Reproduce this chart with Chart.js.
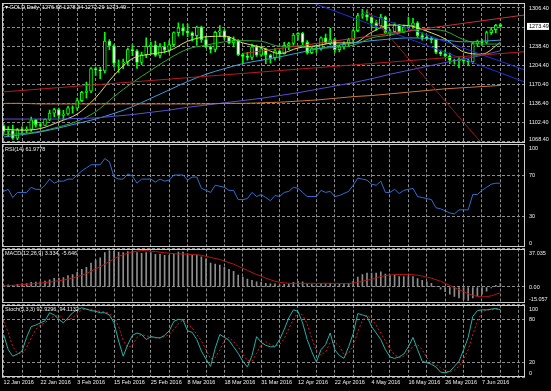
<!DOCTYPE html>
<html>
<head>
<meta charset="utf-8">
<script src="https://cdn.jsdelivr.net/npm/chart.js@4.4.1/dist/chart.umd.min.js"></script>
<style>
  html, body { margin: 0; padding: 0; background: #000; overflow: hidden; }
  #wrap { position: relative; width: 551px; height: 391px; }
  #wrap canvas { position: absolute; left: 0; top: 0; }
</style>
</head>
<body>
<div id="wrap">
  <canvas id="priceChart" width="551" height="391"></canvas>
  <canvas id="rsiChart" width="551" height="391"></canvas>
  <canvas id="macdChart" width="551" height="391"></canvas>
  <canvas id="stochChart" width="551" height="391"></canvas>
</div>
<script>
// GOLD daily, 12 Jan 2016 .. 13 Jun 2016 (one bar per index)
const dateLabels = ['12 Jan 2016', '22 Jan 2016', '3 Feb 2016', '15 Feb 2016', '25 Feb 2016', '8 Mar 2016',
  '18 Mar 2016', '31 Mar 2016', '12 Apr 2016', '22 Apr 2016', '4 May 2016', '16 May 2016', '26 May 2016', '7 Jun 2016'];

const opens = [
  1096.5, 1086.0, 1087.5, 1074.0, 1089.0, 1088.5, 1089.5, 1106.5, 1098.0, 1096.5,
  1107.5, 1118.5, 1125.0, 1114.5, 1117.0, 1128.0, 1127.5, 1141.0, 1155.5, 1158.0,
  1198.0, 1196.0, 1194.0, 1247.5, 1239.0, 1208.0, 1208.5, 1210.0, 1232.0, 1230.0,
  1209.0, 1223.0, 1238.0, 1240.0, 1221.5, 1237.5, 1231.0, 1241.0, 1262.5, 1271.0,
  1265.0, 1262.0, 1257.0, 1272.5, 1250.0, 1237.0, 1232.5, 1263.0, 1265.5, 1254.0,
  1244.0, 1248.5, 1223.0, 1220.0, 1218.0, 1237.0, 1222.0, 1233.5, 1222.0, 1217.5,
  1230.0, 1225.0, 1239.5, 1243.0, 1258.0, 1261.0, 1245.0, 1226.5, 1234.0, 1233.0,
  1253.0, 1243.5, 1250.0, 1232.0, 1237.5, 1243.0, 1249.5, 1266.0, 1293.0, 1294.5,
  1290.0, 1279.5, 1275.0, 1290.0, 1262.5, 1264.0, 1276.5, 1263.5, 1272.5, 1274.5,
  1280.0, 1257.0, 1254.0, 1252.5, 1250.0, 1227.0, 1224.5, 1221.0, 1213.0, 1212.0,
  1215.0, 1212.5, 1210.0, 1243.0, 1246.0, 1245.0, 1262.5, 1267.5, 1276.68];
const highs = [
  1097.5, 1094.5, 1097.0, 1091.5, 1094.0, 1094.0, 1111.5, 1107.5, 1102.0, 1108.5,
  1124.0, 1127.0, 1127.5, 1123.5, 1131.0, 1131.5, 1145.5, 1157.5, 1174.0, 1200.0,
  1201.0, 1200.5, 1263.0, 1250.0, 1241.0, 1214.0, 1215.0, 1235.0, 1240.5, 1232.0,
  1227.5, 1253.0, 1245.5, 1247.5, 1243.0, 1245.0, 1248.0, 1264.0, 1280.0, 1278.0,
  1277.5, 1264.0, 1274.0, 1274.0, 1256.0, 1239.0, 1265.0, 1275.0, 1268.0, 1256.0,
  1255.0, 1250.0, 1226.0, 1227.0, 1242.0, 1240.0, 1238.0, 1235.0, 1224.0, 1234.0,
  1231.0, 1245.0, 1245.0, 1261.0, 1262.5, 1263.0, 1248.0, 1236.0, 1239.0, 1255.0,
  1260.0, 1270.0, 1253.0, 1240.0, 1246.0, 1252.0, 1268.0, 1297.0, 1304.0, 1303.0,
  1291.0, 1285.0, 1295.0, 1292.0, 1268.0, 1280.0, 1277.0, 1276.0, 1290.0, 1288.0,
  1282.0, 1262.0, 1258.0, 1256.0, 1252.0, 1231.0, 1231.0, 1226.0, 1215.0, 1219.0,
  1220.0, 1214.5, 1245.0, 1249.0, 1250.0, 1265.0, 1272.0, 1277.0, 1278.34];
const lows = [
  1081.5, 1076.5, 1071.5, 1071.0, 1081.5, 1083.0, 1086.0, 1093.5, 1093.0, 1096.0,
  1105.0, 1112.0, 1109.0, 1107.0, 1115.0, 1118.5, 1124.0, 1139.0, 1145.5, 1155.0,
  1186.0, 1180.0, 1190.5, 1232.0, 1200.5, 1191.5, 1198.0, 1205.0, 1221.0, 1198.5,
  1205.0, 1217.5, 1225.0, 1220.0, 1217.0, 1226.0, 1227.0, 1239.0, 1256.0, 1258.0,
  1255.0, 1247.0, 1239.5, 1245.0, 1235.0, 1226.0, 1228.0, 1255.0, 1250.0, 1242.0,
  1237.0, 1221.0, 1208.0, 1213.0, 1214.0, 1220.0, 1220.0, 1207.0, 1208.0, 1213.0,
  1216.0, 1224.0, 1232.0, 1240.0, 1249.0, 1241.0, 1224.0, 1225.0, 1227.0, 1231.0,
  1242.0, 1241.0, 1227.0, 1228.0, 1233.0, 1238.0, 1244.0, 1264.0, 1288.0, 1284.0,
  1271.0, 1267.0, 1271.0, 1261.0, 1257.0, 1262.0, 1262.0, 1262.0, 1269.0, 1270.0,
  1254.0, 1249.0, 1250.0, 1244.0, 1225.0, 1221.0, 1219.0, 1207.0, 1206.0, 1199.5,
  1207.0, 1205.0, 1207.0, 1238.0, 1239.5, 1243.0, 1259.0, 1262.0, 1272.29];
const closes = [
  1086.0, 1087.5, 1074.0, 1089.0, 1088.5, 1089.5, 1106.5, 1098.0, 1096.5, 1107.5,
  1118.5, 1125.0, 1114.5, 1117.0, 1128.0, 1127.5, 1141.0, 1155.5, 1158.0, 1198.0,
  1196.0, 1194.0, 1247.5, 1239.0, 1208.0, 1208.5, 1210.0, 1232.0, 1230.0, 1209.0,
  1223.0, 1238.0, 1240.0, 1221.5, 1237.5, 1231.0, 1241.0, 1262.5, 1271.0, 1265.0,
  1262.0, 1257.0, 1272.5, 1250.0, 1237.0, 1232.5, 1263.0, 1265.5, 1254.0, 1244.0,
  1248.5, 1223.0, 1220.0, 1218.0, 1237.0, 1222.0, 1233.5, 1222.0, 1217.5, 1230.0,
  1225.0, 1239.5, 1243.0, 1258.0, 1261.0, 1245.0, 1226.5, 1234.0, 1233.0, 1253.0,
  1243.5, 1250.0, 1232.0, 1237.5, 1243.0, 1249.5, 1266.0, 1293.0, 1294.5, 1290.0,
  1279.5, 1275.0, 1290.0, 1262.5, 1264.0, 1276.5, 1263.5, 1272.5, 1274.5, 1280.0,
  1257.0, 1254.0, 1252.5, 1250.0, 1227.0, 1224.5, 1221.0, 1213.0, 1212.0, 1215.0,
  1212.5, 1210.0, 1243.0, 1246.0, 1245.0, 1262.5, 1267.5, 1275.5, 1273.49];

// moving averages, read every 4th bar (bar index = 4 * position)
const ma10 = [1090, 1088, 1091, 1103, 1117, 1146, 1186, 1216, 1224, 1230, 1247, 1255, 1256, 1244,
  1236, 1225, 1235, 1239, 1244, 1244, 1263, 1276, 1275, 1265, 1251, 1228, 1224, 1245];
const ma20 = [1080, 1082, 1086, 1094, 1104, 1121, 1148, 1173, 1195, 1216, 1233, 1240, 1246, 1248,
  1247, 1238, 1238, 1234, 1236, 1240, 1253, 1258, 1265, 1268, 1265, 1250, 1242, 1242];
const ma50 = [1076, 1080, 1085, 1092, 1100, 1108, 1118, 1130, 1145, 1160, 1175, 1188, 1198, 1207,
  1213, 1219, 1226, 1233, 1239, 1244, 1248, 1251, 1253, 1252, 1249, 1246, 1247, 1249];
const ma100 = [1108, 1108, 1108, 1108, 1109, 1110, 1113, 1116, 1120, 1124, 1129, 1133, 1137, 1141,
  1145, 1150, 1155, 1161, 1167, 1173, 1180, 1188, 1195, 1202, 1209, 1215, 1222, 1230];
const ma200 = [1136, 1136, 1135, 1135, 1135, 1135, 1135, 1135, 1135, 1135, 1135, 1135, 1136, 1136,
  1137, 1138, 1140, 1142, 1145, 1148, 1150, 1153, 1156, 1159, 1162, 1164, 1166, 1168];

// trend lines: [barIndex, price] end points
const trendLow = [[-0.4, 1156.3], [113.3, 1228.3]];
const trendHigh = [[52, 1225.0], [113.3, 1294.0]];
const trendDrop = [[78.9, 1302.8], [106, 1045.2]];
const channelA = [[67.6, 1314.4], [113.3, 1174.2]];
const channelB = [[78, 1299.3], [113.3, 1195.6]];

const rsi = [
  54, 56, 48, 53, 53, 53, 58, 56, 56, 60,
  66, 62, 64, 64, 66, 66, 70, 74, 77, 80,
  80, 80, 86, 83, 68, 66, 66, 71, 69, 62,
  66, 66, 66, 63, 66, 64, 65, 70, 70, 70,
  65, 68, 68, 57, 55, 53, 60, 59, 58, 55,
  55, 46, 46, 47, 53, 49, 51, 48, 45, 50,
  49, 53, 54, 58, 57, 53, 49, 49, 49, 55,
  53, 54, 49, 50, 52, 54, 60, 67, 66, 65,
  61, 60, 64, 53, 53, 56, 52, 55, 56, 57,
  49, 48, 47, 46, 38, 37, 35, 33, 32, 36,
  36, 36, 51, 51, 55, 58, 61, 62, 62];

const macdMain = [
  1.5, 2, 1.5, 2.5, 3, 3.3, 4.5, 4.8, 5, 5.8,
  7, 8.3, 8.6, 9, 11, 12, 14, 17, 19, 23,
  26, 28, 33, 35, 34.5, 33.5, 33, 34, 34.5, 33,
  32.5, 33, 33, 31.5, 31.5, 30.5, 30.5, 32, 33.5, 33.5,
  32, 31, 31, 29, 27, 23, 22, 21, 19, 17,
  15, 11.5, 9.5, 7.5, 6.5, 5, 4.5, 3.5, 3, 3,
  2, 2.5, 3, 4.5, 5.5, 5, 3, 2.5, 2, 3,
  3, 3.5, 2.5, 2.5, 3, 3.5, 5.5, 9.5, 12, 13.5,
  13.5, 13.5, 14.5, 12.5, 11.5, 11.5, 10, 10, 10, 10,
  8, 6.5, 5, 3.5, 0.5, -2, -4.5, -7, -9, -10.5,
  -12, -13, -10.5, -8.5, -7, -4, -1, 1.5, 3.3];
const macdSignal = [
  1, 1.3, 1.6, 1.9, 2.2, 2.6, 3, 3.4, 3.8, 4.3,
  4.8, 5.3, 6, 6.7, 7.6, 8.5, 10, 11.3, 13, 15,
  17.5, 19.5, 22, 24.5, 27, 29.5, 31, 32.5, 33.5, 34.5,
  35, 35, 34.5, 34, 33.5, 33, 32.5, 32, 31.8, 31.8,
  31.5, 31.2, 31, 30.5, 29.5, 28.5, 27.5, 26.5, 25, 23.5,
  22, 20, 18, 16, 14, 12, 10.5, 8.5, 7, 5.5,
  4.5, 4, 3.6, 3.5, 3.5, 3.5, 3.5, 3.5, 3.5, 3.5,
  3.6, 3.6, 3.5, 3.4, 3.3, 3.4, 3.8, 4.5, 5.5, 6.5,
  7.5, 8.8, 10, 11, 11.5, 12, 12, 12, 12, 11.8,
  11.3, 10.5, 9.5, 8.5, 7, 5.5, 3.5, 1.5, -0.5, -2.5,
  -4.5, -6.5, -8, -9, -9.5, -9.3, -8.5, -7, -5.6];

const stochMain = [
  59, 38, 29, 32, 36, 55, 70, 72, 75, 78,
  89, 86, 80, 75, 82, 89, 93, 96, 94, 92,
  91, 89, 89, 86, 75, 50, 29, 45, 58, 61,
  59, 52, 56, 55, 54, 58, 64, 77, 80, 79,
  64, 62, 52, 36, 25, 15, 40, 59, 55, 51,
  42, 33, 22, 14, 30, 56, 48, 44, 42, 42,
  52, 66, 82, 93, 91, 75, 52, 35, 21, 38,
  45, 61, 38, 30, 26, 42, 60, 88, 86, 84,
  70, 61, 52, 38, 28, 26, 28, 32, 42, 55,
  38, 22, 20, 18, 14, 7, 6, 8, 15, 22,
  38, 55, 84, 92, 93, 93, 94, 95, 93];
const stochSignal = [
  77, 62, 42, 33, 32, 41, 54, 66, 72, 75,
  81, 84, 85, 80, 79, 82, 88, 93, 94, 94,
  92, 91, 90, 88, 83, 70, 51, 41, 44, 55,
  59, 57, 56, 54, 55, 56, 59, 66, 74, 79,
  74, 68, 59, 50, 38, 25, 27, 38, 51, 55,
  49, 42, 32, 23, 22, 33, 45, 49, 45, 43,
  45, 53, 67, 80, 89, 86, 73, 54, 36, 31,
  35, 48, 48, 43, 31, 33, 43, 63, 78, 86,
  80, 72, 61, 50, 39, 31, 27, 29, 34, 43,
  45, 38, 27, 20, 17, 13, 9, 7, 10, 15,
  25, 38, 59, 77, 90, 93, 93, 94, 94];

// scale labels
const priceTicks = [1306.4, 1272.4, 1238.4, 1204.4, 1170.4, 1136.4, 1102.4, 1068.4];
const lastPrice = 1273.49;
const rsiTicks = [100, 70, 30, 0];
const macdTicks = [37.035, 0, -15.057];
const macdTickText = ['37.035', '0.00', '-15.057'];
const stochTicks = [100, 80, 20, 0];

// ---- look ----
const FONT = '5.5px "Liberation Sans", Arial, sans-serif';
const TEXT = '#f0f0f0';
const GRID = '#8c8c8c';
const FRAME = '#cfcfcf';
const CANDLE = '#00ff00';
const X_MIN = -0.35, X_MAX = 113.35;

const pts = arr => arr.map((v, i) => ({ x: i, y: v }));
const every4 = arr => arr.map((v, k) => ({ x: k * 4, y: v }));
const seg = p => p.map(q => ({ x: q[0], y: q[1] }));

// frame, right hand scale text and panel caption
const panelFrame = {
  id: 'panelFrame',
  afterDraw(chart, args, opts) {
    const { ctx, chartArea: a } = chart;
    const ys = chart.scales.y;
    ctx.save();
    ctx.strokeStyle = FRAME;
    ctx.lineWidth = 1;
    ctx.strokeRect(Math.round(a.left) + 0.5, Math.round(a.top) + 0.5,
      Math.round(a.right - a.left) - 1, Math.round(a.bottom - a.top) - 1);
    ctx.font = FONT;
    ctx.fillStyle = TEXT;
    ctx.textAlign = 'left';
    ctx.textBaseline = 'middle';
    ys.ticks.forEach((t, k) => {
      const txt = opts.labels[k];
      if (!txt) return;
      let py = ys.getPixelForValue(t.value);
      py = Math.min(Math.max(py, a.top + 4.5), a.bottom - 3.5);
      ctx.fillText(txt, a.right + 4, py);
    });
    if (opts.current !== undefined) {
      const py = ys.getPixelForValue(opts.current);
      ctx.fillStyle = '#ffffff';
      ctx.fillRect(a.right + 2, py - 3.5, 22, 7);
      ctx.fillStyle = '#000000';
      ctx.fillText(opts.current.toFixed(2), a.right + 4, py);
    }
    ctx.fillStyle = TEXT;
    ctx.textBaseline = 'top';
    ctx.fillText(opts.title, a.left + 3, a.top + 2);
    ctx.restore();
  }
};

function xAxis(withDates) {
  return {
    type: 'linear', min: X_MIN, max: X_MAX, offset: false,
    ticks: {
      display: withDates, stepSize: 4, includeBounds: false, autoSkip: false, maxRotation: 0,
      align: 'start', padding: 2, color: TEXT, font: { family: '"Liberation Sans", Arial, sans-serif', size: 5.5 },
      callback: v => (v % 8 === 0 && dateLabels[v / 8]) ? dateLabels[v / 8] : ''
    },
    grid: { color: GRID, lineWidth: 1, drawTicks: false, offset: false },
    border: { display: false, dash: [3, 2] },
    afterFit: s => { s.height = withDates ? 13.8 : 0; }
  };
}

function yAxis(min, max, tickValues) {
  return {
    type: 'linear', position: 'right', min: min, max: max, beginAtZero: false,
    afterBuildTicks: s => { s.ticks = tickValues.map(v => ({ value: v })); },
    ticks: { display: false },
    grid: { color: GRID, lineWidth: 1, drawTicks: false },
    border: { display: false, dash: [3, 2] },
    afterFit: s => { s.width = 26; }
  };
}

function baseOptions(pad, x, y, frame) {
  return {
    responsive: false, animation: false, events: [],
    layout: { padding: pad },
    scales: { x: x, y: y },
    plugins: { legend: { display: false }, tooltip: { enabled: false }, panelFrame: frame }
  };
}

const line = (data, color, extra) => Object.assign({
  type: 'line', data: data, borderColor: color, borderWidth: 1, pointRadius: 0, fill: false, tension: 0
}, extra || {});

// ---- price panel ----
new Chart(document.getElementById('priceChart'), {
  type: 'line',
  data: {
    datasets: [
      { type: 'bar', data: lows.map((l, i) => ({ x: i, y: [l, highs[i]] })), backgroundColor: CANDLE,
        barThickness: 1, grouped: false, order: 6 },
      { type: 'bar', data: opens.map((o, i) => ({ x: i, y: [o, closes[i]] })),
        backgroundColor: c => (c.raw && c.raw.y[1] >= c.raw.y[0]) ? '#000000' : '#ffffff',
        borderColor: CANDLE, borderWidth: 1, borderSkipped: false, barThickness: 3, grouped: false, order: 5 },
      line(every4(ma200), '#c8773a', { cubicInterpolationMode: 'monotone', order: 3 }),
      line(every4(ma100), '#5b4fd0', { cubicInterpolationMode: 'monotone', order: 3 }),
      line(every4(ma50), '#3b9cd8', { cubicInterpolationMode: 'monotone', order: 3 }),
      line(every4(ma20), '#2fa82f', { cubicInterpolationMode: 'monotone', order: 3 }),
      line(every4(ma10), '#dede6a', { cubicInterpolationMode: 'monotone', order: 3 }),
      line(seg(trendLow), '#b81c1c', { order: 2 }),
      line(seg(trendHigh), '#c83030', { order: 2 }),
      line(seg(trendDrop), '#8e1c1c', { order: 2 }),
      line(seg(channelA), '#1f2fd8', { order: 2 }),
      line(seg(channelB), '#1f2fd8', { order: 2 })
    ]
  },
  options: baseOptions({ left: 2, right: 0, top: 3, bottom: 247.7 }, xAxis(false),
    yAxis(1064.65, 1315.33, priceTicks),
    { labels: priceTicks.map(v => v === 1272.4 ? '' : v.toFixed(2)), current: lastPrice,
      title: '\u25BE GOLD,Daily  1276.68 1278.34 1272.29 1273.49' }),
  plugins: [panelFrame]
});

// ---- RSI panel ----
new Chart(document.getElementById('rsiChart'), {
  type: 'line',
  data: { datasets: [line(pts(rsi), '#2f6fd0')] },
  options: baseOptions({ left: 2, right: 0, top: 144.25, bottom: 144.25 }, xAxis(false),
    yAxis(0, 100, rsiTicks), { labels: rsiTicks.map(String), title: 'RSI(14) 61.9778' }),
  plugins: [panelFrame]
});

// ---- MACD panel ----
new Chart(document.getElementById('macdChart'), {
  type: 'line',
  data: {
    datasets: [
      { type: 'bar', data: pts(macdMain), backgroundColor: '#8e8e8e', barThickness: 1, grouped: false, order: 2 },
      line(pts(macdSignal), '#b81414', { order: 1 })
    ]
  },
  options: baseOptions({ left: 2, right: 0, top: 248.5, bottom: 88.35 }, xAxis(false),
    yAxis(-15.057, 37.035, macdTicks), { labels: macdTickText, title: 'MACD(12,26,9) 3.334, -5.646' }),
  plugins: [panelFrame]
});

// ---- Stochastic panel ----
new Chart(document.getElementById('stochChart'), {
  type: 'line',
  data: {
    datasets: [
      line(pts(stochMain), '#20b2aa'),
      line(pts(stochSignal), '#e01818', { borderDash: [2, 2] })
    ]
  },
  options: baseOptions({ left: 2, right: 0, top: 304.8, bottom: 0 }, xAxis(true),
    yAxis(0, 100, stochTicks), { labels: stochTicks.map(String), title: 'Stoch(5,3,3) 92.9296, 94.1132' }),
  plugins: [panelFrame]
});
</script>
</body>
</html>
